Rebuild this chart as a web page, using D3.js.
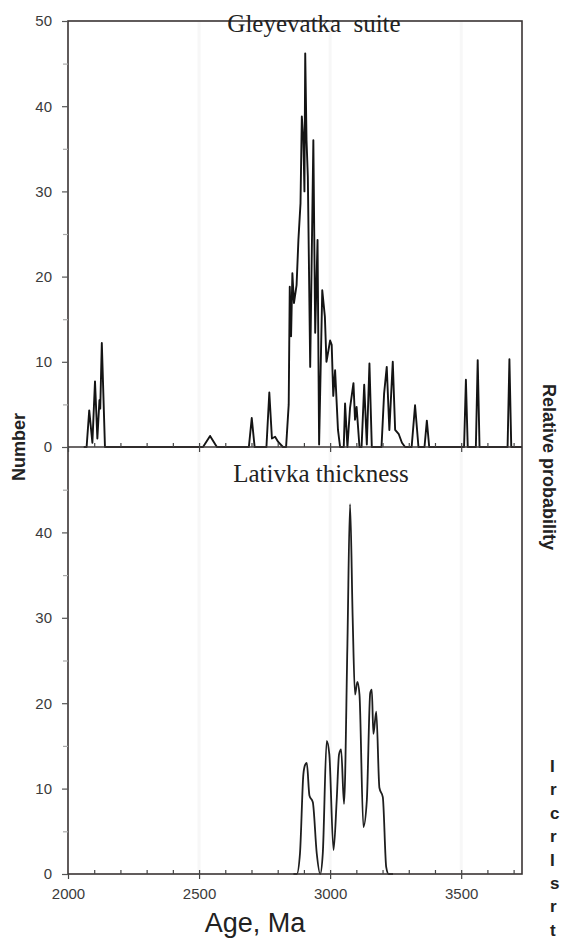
<!DOCTYPE html>
<html>
<head>
<meta charset="utf-8">
<script src="https://cdn.jsdelivr.net/npm/d3@7"></script>
<style>
  body { margin: 0; background: #fff; }
  #chart { width: 563px; height: 938px; overflow: hidden; }
</style>
</head>
<body>
<div id="chart"></div>
<script>
// Gleyevatka suite (upper panel) - age, Ma / number
var gleyAge = [2060, 2071, 2081, 2093, 2103, 2112, 2120, 2123, 2129, 2141,
  2515, 2542, 2568, 2690, 2701, 2712, 2757, 2768, 2778, 2790, 2802, 2820,
  2832, 2842, 2846, 2851, 2856, 2862, 2872, 2879, 2887, 2892, 2898, 2902, 2905,
  2910, 2915, 2924, 2936, 2943, 2952, 2958, 2970, 2980, 2986, 3000, 3006, 3012,
  3019, 3030, 3038, 3052, 3057, 3066, 3076, 3089, 3095, 3101, 3112, 3120, 3130,
  3140, 3150, 3159, 3196, 3206, 3216, 3226, 3239, 3248, 3262, 3274, 3286, 3311,
  3324, 3337, 3360, 3369, 3378, 3511, 3518, 3525, 3556, 3563, 3570, 3677, 3684,
  3691, 3732];
var gleyNum = [0, 0, 4.3, 0.5, 7.7, 1.0, 5.5, 4.5, 12.2, 0,
  0, 1.3, 0, 0, 3.4, 0, 0, 6.4, 1.0, 1.2, 0.6, 0,
  0, 5, 18.8, 13, 20.4, 16.9, 19, 24.3, 28.6, 38.8, 36, 30, 46.2,
  36, 31.7, 9.4, 36, 13.4, 24.3, 0.3, 18.4, 15.3, 10, 12.5, 12, 6,
  9, 2, 0, 0, 5.1, 0, 4.6, 7.5, 3.2, 4.7, 0, 0, 7.3,
  0.3, 9.8, 0, 0, 6.3, 9.4, 2, 10, 2, 1.5, 0.5, 0, 0,
  4.9, 0, 0, 3.1, 0, 0, 7.9, 0, 0, 10.2, 0, 0, 10.3,
  0, 0];

// Lativka thickness (lower panel)
var lativAge = [2860, 2873, 2885, 2898, 2905, 2911, 2921, 2934, 2949, 2962,
  2972, 2987, 2997, 3013, 3025, 3034, 3042, 3053, 3066, 3076, 3086, 3095,
  3104, 3112, 3127, 3140, 3153, 3159, 3165, 3176, 3188, 3201, 3214, 3223, 3240];
var lativNum = [0, 0, 2.4, 11.7, 12.8, 13, 9.2, 8.4, 2.4, 0,
  2.4, 15.6, 14, 2.8, 8.6, 14, 14.6, 8.2, 27, 43.3, 30, 21,
  22.5, 21, 5.5, 8.6, 21.2, 21.6, 16.4, 19, 10.1, 9, 0.8, 0, 0];

var xMajor = [2000, 2500, 3000, 3500];
var xMinor = d3.range(2100, 3732, 100);
var yTopTicks = [0, 10, 20, 30, 40, 50];
var yBotTicks = [0, 10, 20, 30, 40];
var yMinor = [5, 15, 25, 35, 45];
var sideLetters = ["I", "r", "c", "r", "I", "s", "r", "t"];

var plotL = 68, plotR = 522, plotT = 21, plotM = 447, plotB = 874;

var svg = d3.select("#chart")
  .append("svg")
    .attr("width", 563)
    .attr("height", 938)
    .style("font-family", "Liberation Sans, Arial, sans-serif");

var x = d3.scaleLinear().domain([2000, 3732]).range([plotL, plotR]);
var yTop = d3.scaleLinear().domain([0, 50]).range([plotM, plotT]);
var yBot = d3.scaleLinear().domain([0, 50]).range([plotB, plotM]);

// faint vertical bands at the major ages
svg.selectAll("line.grid")
  .data(xMajor.slice(1))
  .enter()
  .append("line")
    .attr("x1", function(d) { return x(d); })
    .attr("x2", function(d) { return x(d); })
    .attr("y1", plotT)
    .attr("y2", plotB)
    .attr("stroke", "#f7f7f7")
    .attr("stroke-width", 3);

// curves
var lineTop = d3.line()
  .x(function(d) { return x(d[0]); })
  .y(function(d) { return yTop(d[1]); });
var lineBot = d3.line()
  .x(function(d) { return x(d[0]); })
  .y(function(d) { return yBot(d[1]); })
  .curve(d3.curveMonotoneX);

svg.append("path")
  .datum(d3.zip(gleyAge, gleyNum))
  .attr("d", lineTop)
  .attr("fill", "none")
  .attr("stroke", "#141414")
  .attr("stroke-width", 1.9)
  .attr("stroke-linejoin", "round");

svg.append("path")
  .datum(d3.zip(lativAge, lativNum))
  .attr("d", lineBot)
  .attr("fill", "none")
  .attr("stroke", "#1e1e1e")
  .attr("stroke-width", 1.8);

// frame
svg.append("rect")
  .attr("x", plotL).attr("y", plotT)
  .attr("width", plotR - plotL).attr("height", plotB - plotT)
  .attr("fill", "none")
  .attr("stroke", "#3a3434")
  .attr("stroke-width", 1.6);
svg.append("line")
  .attr("x1", plotL).attr("x2", plotR)
  .attr("y1", plotM).attr("y2", plotM)
  .attr("stroke", "#3a3434")
  .attr("stroke-width", 1.6);

function styleAxis(g, color) {
  g.select(".domain").remove();
  g.selectAll("line").attr("stroke", color).attr("stroke-width", 1.2);
  g.selectAll("text").attr("fill", "#3b3b3b").style("font-size", "15px");
}

// y axes
svg.append("g")
  .attr("transform", "translate(" + plotL + ",0)")
  .call(d3.axisLeft(yTop).tickValues(yTopTicks).tickSize(6).tickPadding(10))
  .call(styleAxis, "#555");
svg.append("g")
  .attr("transform", "translate(" + plotL + ",0)")
  .call(d3.axisLeft(yTop).tickValues(yMinor).tickSize(5).tickFormat(""))
  .call(styleAxis, "#aaa");
svg.append("g")
  .attr("transform", "translate(" + plotL + ",0)")
  .call(d3.axisLeft(yBot).tickValues(yBotTicks).tickSize(6).tickPadding(10))
  .call(styleAxis, "#555");
svg.append("g")
  .attr("transform", "translate(" + plotL + ",0)")
  .call(d3.axisLeft(yBot).tickValues(yMinor).tickSize(5).tickFormat(""))
  .call(styleAxis, "#aaa");

// x axes: bottom one with labels, middle one only ticks
[plotB, plotM].forEach(function(yPos, i) {
  svg.append("g")
    .attr("transform", "translate(0," + yPos + ")")
    .call(d3.axisBottom(x).tickValues(xMinor).tickSize(-4).tickFormat(""))
    .call(styleAxis, "#444");
  svg.append("g")
    .attr("transform", "translate(0," + yPos + ")")
    .call(d3.axisBottom(x).tickValues(xMajor).tickSize(5).tickPadding(9)
      .tickFormat(i == 0 ? d3.format("d") : ""))
    .call(styleAxis, "#444");
});

// titles and labels
svg.append("text")
  .attr("x", 314).attr("y", 32)
  .attr("text-anchor", "middle")
  .style("font-family", "Liberation Serif, Times New Roman, serif")
  .style("font-size", "25px")
  .style("word-spacing", "6px")
  .attr("fill", "#222")
  .text("Gleyevatka suite");
svg.append("text")
  .attr("x", 321).attr("y", 482)
  .attr("text-anchor", "middle")
  .style("font-family", "Liberation Serif, Times New Roman, serif")
  .style("font-size", "25px")
  .attr("fill", "#222")
  .text("Lativka thickness");

svg.append("text")
  .attr("transform", "translate(25,447)rotate(-90)")
  .attr("text-anchor", "middle")
  .style("font-size", "18px")
  .style("font-weight", "bold")
  .attr("fill", "#222")
  .text("Number");
svg.append("text")
  .attr("transform", "translate(543,467)rotate(90)")
  .attr("text-anchor", "middle")
  .style("font-size", "18px")
  .style("font-weight", "bold")
  .attr("fill", "#222")
  .text("Relative probability");

svg.append("text")
  .attr("x", 255).attr("y", 932)
  .attr("text-anchor", "middle")
  .style("font-size", "27px")
  .attr("fill", "#222")
  .text("Age, Ma");

// cut-off caption letters at the right edge
svg.selectAll("text.side")
  .data(sideLetters)
  .enter()
  .append("text")
    .attr("class", "side")
    .attr("x", 550)
    .attr("y", function(d, i) { return 772 + i * 23.4; })
    .style("font-size", "17px")
    .style("font-weight", "bold")
    .attr("fill", "#222")
    .text(function(d) { return d; });
</script>
</body>
</html>
